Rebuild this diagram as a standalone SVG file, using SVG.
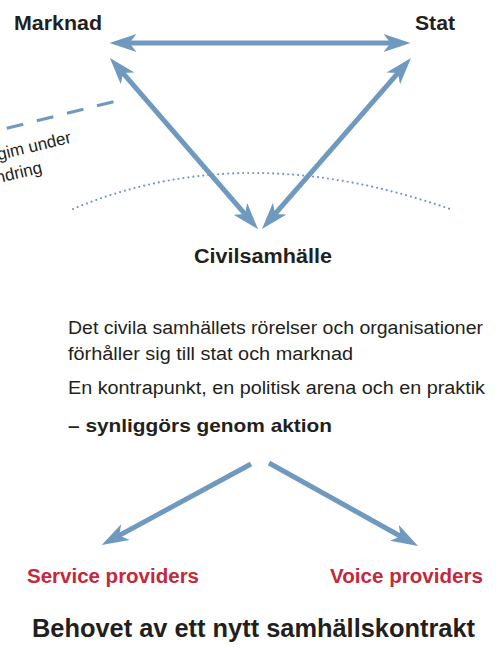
<svg xmlns="http://www.w3.org/2000/svg" width="499" height="648" viewBox="0 0 499 648">
<defs>
<style>
.ln{stroke:#7099bf;stroke-width:5;fill:none}
.t{font-family:"Liberation Sans",Arial,sans-serif;fill:#231f20}
.b{font-weight:bold}
.red{fill:#c5283a}
</style>
<marker id="ah" viewBox="-10 -10 30 20" markerWidth="30" markerHeight="20" refX="0" refY="0" markerUnits="userSpaceOnUse" orient="auto-start-reverse" overflow="visible">
<path d="M18,0 L-9,-9 L-2,0 L-9,9 Z" fill="#7099bf"/>
</marker>
</defs>
<rect width="499" height="648" fill="#ffffff"/>
<g id="connectors">
<line class="ln" x1="127.5" y1="43" x2="392.5" y2="43" marker-start="url(#ah)" marker-end="url(#ah)"/>
<line class="ln" x1="121.7" y1="71.6" x2="246.3" y2="215.6" marker-start="url(#ah)" marker-end="url(#ah)"/>
<line class="ln" x1="399.2" y1="71.6" x2="273.8" y2="215.4" marker-start="url(#ah)" marker-end="url(#ah)"/>
<line class="ln" x1="251" y1="464" x2="117.5" y2="536.4" marker-end="url(#ah)"/>
<line class="ln" x1="269" y1="463" x2="402.3" y2="537.2" marker-end="url(#ah)"/>
</g>
<g id="regime">
<line x1="113.5" y1="101.7" x2="-10" y2="132.5" stroke="#7099bf" stroke-width="3" stroke-dasharray="17 14"/>
<text class="t" font-size="17" text-anchor="end" transform="translate(72,142.5) rotate(-13.5)">Regim under</text>
<text class="t" font-size="17" text-anchor="end" transform="translate(43,172.5) rotate(-13.5)">förändring</text>
</g>
<g id="arc">
<path d="M73,209 Q244,137 450,209" fill="none" stroke="#7099bf" stroke-width="2.2" stroke-linecap="round" stroke-dasharray="0 5"/>
</g>
<g id="marknad"><text class="t b" x="14" y="30" font-size="20" textLength="88" lengthAdjust="spacingAndGlyphs">Marknad</text></g>
<g id="stat"><text class="t b" x="415" y="30" font-size="20" textLength="40" lengthAdjust="spacingAndGlyphs">Stat</text></g>
<g id="civilsamhalle"><text class="t b" x="194" y="263" font-size="20" textLength="138" lengthAdjust="spacingAndGlyphs">Civilsamhälle</text></g>
<g id="description">
<text class="t" x="68" y="334" font-size="18" textLength="415" lengthAdjust="spacingAndGlyphs">Det civila samhällets rörelser och organisationer</text>
<text class="t" x="68" y="360" font-size="18" textLength="285" lengthAdjust="spacingAndGlyphs">förhåller sig till stat och marknad</text>
<text class="t" x="68" y="394" font-size="18" textLength="417" lengthAdjust="spacingAndGlyphs">En kontrapunkt, en politisk arena och en praktik</text>
<text class="t b" x="68" y="432" font-size="19" textLength="264" lengthAdjust="spacingAndGlyphs">– synliggörs genom aktion</text>
</g>
<g id="service"><text class="t b red" x="27" y="583" font-size="20" textLength="172" lengthAdjust="spacingAndGlyphs">Service providers</text></g>
<g id="voice"><text class="t b red" x="330" y="583" font-size="20" textLength="153" lengthAdjust="spacingAndGlyphs">Voice providers</text></g>
<g id="title"><text class="t b" x="32" y="637" font-size="25" textLength="443" lengthAdjust="spacingAndGlyphs">Behovet av ett nytt samhällskontrakt</text></g>
</svg>
